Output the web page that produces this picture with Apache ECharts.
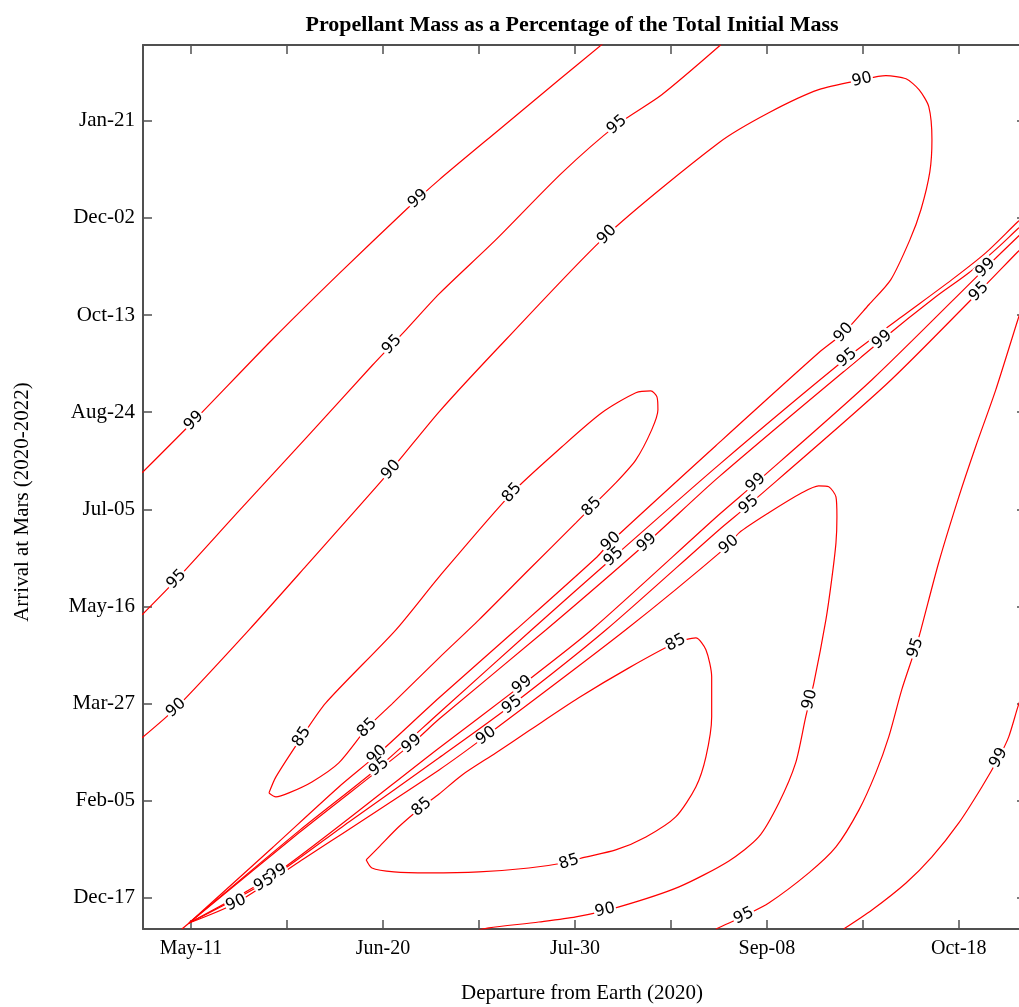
<!DOCTYPE html>
<html><head><meta charset="utf-8">
<script src="https://cdn.jsdelivr.net/npm/echarts@6/dist/echarts.min.js"></script>
<style>html,body{margin:0;padding:0;background:#fff}#c{width:1019px;height:1007px}</style>
</head><body><div id="c"></div>
<script>
// x = days after May 11, 2020 (departure); y = days after Dec 17, 2020 (arrival)
const titleText = 'Propellant Mass as a Percentage of the Total Initial Mass';
const xName = 'Departure from Earth (2020)';
const yName = 'Arrival at Mars (2020-2022)';
const xTickLabels = ['May-11','Jun-20','Jul-30','Sep-08','Oct-18'];
const xTickLabelValues = [0,40,80,120,160];
const xTickValues = [0,20,40,60,80,100,120,140,160];
const yTickLabels = ['Dec-17','Feb-05','Mar-27','May-16','Jul-05','Aug-24','Oct-13','Dec-02','Jan-21'];
const yTickValues = [0,50,100,150,200,250,300,350,400];

// contour lines, each as [departure day, arrival day]
const c99TopLeft = [[-10.2,218.8],[0.6,245.6],[16.9,287.3],[30.8,321.2],[44.8,354.2],[51.7,369.6],[64.2,395.4],[76.7,421.1],[85.8,439.6]];
const lab99TopLeft = [[0.6,245.6],[47.5,359.3]];

const c95TopLeft = [[-10.2,145.7],[-2.9,164.2],[10.0,199.2],[24.0,236.8],[37.7,273.9],[44.8,292.4],[51.7,310.9],[63.5,338.7],[77.3,373.2],[88.75,397.9],[98.1,413.4],[110.4,439.1]];
const lab95TopLeft = [[-2.9,163.7],[41.9,284.7],[88.75,397.9]];

const c90Upper = [[-10.2,82.4],[-3.1,97.8],[12.1,138.0],[24.0,170.9],[41.7,220.3],[51.7,250.2],[65.6,287.3],[86.7,341.3],[110.0,388.7],[120.4,404.1],[130.8,416.0],[139.8,421.1],[144.8,423.2],[149.0,421.6],[151.7,416.0],[153.75,407.2],[154.4,390.2],[153.96,373.7],[152.1,354.2],[149.8,338.7],[145.8,318.1],[141.25,305.3],[136.0,290.9],[130.8,280.6],[110.0,234.2],[87.5,183.3],[84.6,175.5],[67.7,138.0],[51.7,103.0],[38.75,73.6],[30.8,57.1],[16.9,25.7],[-0.4,-12.9],[-1.9,-16.0]];
const lab90Upper = [[-3.1,97.8],[41.7,220.3],[86.7,341.3],[139.8,421.1],[136.0,290.9],[87.5,183.3],[38.75,73.6]];

const c95Upper = [[-0.4,-12.9],[22.5,34.5],[39.2,67.4],[51.7,95.2],[71.0,138.0],[88.1,175.5],[110.0,222.9],[136.7,278.0],[148.1,299.1],[158.5,318.1],[165.6,332.0],[172.3,348.0],[174.0,351.6]];
const lab95Upper = [[39.2,67.4],[88.1,175.5],[136.7,278.0]];

const c99Upper = [[-0.4,-12.9],[22.5,33.5],[46.0,79.3],[51.7,92.1],[74.0,138.0],[95.0,182.8],[110.0,216.7],[144.0,287.3],[155.2,309.4],[162.1,321.75],[168.3,335.1],[172.3,344.4],[174.0,348.0]];
const lab99Upper = [[46.0,79.3],[95.0,182.8],[144.0,287.3]];

const c99Lower = [[-0.4,-12.9],[17.9,12.9],[51.7,77.2],[69.0,109.65],[83.5,138.0],[110.0,197.2],[117.7,213.6],[141.9,266.7],[165.6,324.3],[172.3,340.3],[174.0,344.4]];
const lab99Lower = [[17.9,12.9],[69.0,109.65],[117.7,213.6],[165.6,324.3]];

const c95Lower = [[-0.4,-12.9],[15.2,7.7],[32.9,39.1],[51.7,72.1],[66.9,99.4],[86.5,138.0],[110.0,189.4],[116.25,202.3],[144.8,264.1],[164.2,312.0],[172.3,332.6],[174.0,336.7]];
const lab95Lower = [[15.2,7.7],[66.9,99.4],[116.25,202.3],[164.2,312.0]];

const c90Lower = [[-0.4,-12.9],[9.4,-2.6],[22.5,18.5],[51.7,65.9],[61.5,83.4],[90.6,138.0],[112.1,181.7],[114.2,187.9],[120.4,198.2],[127.3,208.5],[130.8,212.1],[132.9,211.6],[134.4,206.4],[134.6,196.1],[134.4,182.75],[133.5,163.7],[132.3,143.1],[129.8,110.7],[128.1,93.2],[126.0,69.5],[122.5,48.9],[118.3,31.4],[112.1,19.05],[101.7,5.7],[89.2,-4.6],[80.2,-9.8],[72.5,-12.4],[62.1,-15.4],[60.0,-16.5]];
const lab90Lower = [[9.4,-2.6],[61.5,83.4],[112.1,181.7],[129.4,101.9],[86.5,-8.75]];

const c85Upper = [[16.25,54.05],[17.7,62.3],[23.1,82.9],[28.1,100.4],[42.7,138.0],[51.7,165.25],[66.9,208.5],[77.3,232.2],[85.6,249.7],[92.7,260.0],[95.8,261.0],[97.1,257.9],[97.3,251.2],[96.0,240.9],[92.7,225.5],[88.5,213.6],[83.5,201.3],[80.2,193.05],[70.4,168.9],[60.0,143.1],[51.7,123.55],[41.9,99.9],[36.7,87.5],[30.8,69.5],[25.2,59.7],[20.4,54.05],[17.7,52.0],[16.25,54.05]];
const lab85Upper = [[23.1,82.9],[66.9,208.5],[83.5,201.3],[36.7,87.5]];

const c85Lower = [[36.5,19.6],[39.2,26.3],[43.3,36.6],[48.1,46.8],[51.7,53.5],[56.5,63.3],[63.5,74.6],[70.4,86.0],[80.8,103.0],[91.25,118.4],[101.0,131.3],[105.2,133.8],[107.3,127.7],[108.5,113.8],[108.5,93.2],[107.3,72.6],[105.2,57.1],[101.0,41.7],[94.8,31.4],[88.5,24.7],[81.5,20.6],[78.75,18.5],[70.4,15.4],[60.0,13.4],[49.6,12.9],[42.3,13.4],[37.7,15.4],[36.5,19.6]];
const lab85Lower = [[48.1,46.8],[101.0,131.3],[78.75,18.5]];

const c95Right = [[109.4,-16.0],[115.2,-9.3],[120.4,-2.6],[128.75,12.9],[134.4,26.25],[139.2,45.3],[142.7,64.35],[145.4,82.9],[148.1,107.1],[151.0,128.7],[152.1,138.0],[155.8,172.5],[160.0,206.4],[163.5,232.2],[167.7,261.5],[172.3,297.6],[174.0,310.4]];
const lab95Right = [[115.2,-9.3],[151.0,128.7]];

const c99Right = [[136.0,-16.0],[141.9,-6.2],[149.0,7.7],[154.4,21.1],[160.0,38.6],[164.8,57.1],[168.3,72.1],[170.4,82.9],[172.3,98.3],[174.0,110.7]];
const lab99Right = [[168.3,72.1]];

const contours = [
  {level:99, points:c99TopLeft, labels:lab99TopLeft},
  {level:95, points:c95TopLeft, labels:lab95TopLeft},
  {level:90, points:c90Upper, labels:lab90Upper},
  {level:95, points:c95Upper, labels:lab95Upper},
  {level:99, points:c99Upper, labels:lab99Upper},
  {level:99, points:c99Lower, labels:lab99Lower},
  {level:95, points:c95Lower, labels:lab95Lower},
  {level:90, points:c90Lower, labels:lab90Lower},
  {level:85, points:c85Upper, labels:lab85Upper},
  {level:85, points:c85Lower, labels:lab85Lower},
  {level:95, points:c95Right, labels:lab95Right},
  {level:99, points:c99Right, labels:lab99Right}
];

const axisColor = '#505050';
const serif = '"Liberation Serif", "Times New Roman", serif';
const sans = '"DejaVu Sans", Arial, sans-serif';
const chart = echarts.init(document.getElementById('c'), null, {renderer:'canvas'});

function xAxisDef(pos, showLabel){
  return {
    type:'value', position:pos, min:-10, max:174,
    axisLine:{show:true, onZero:false, lineStyle:{color:axisColor, width:2}},
    axisTick:{show:true, inside:true, length:9, customValues:xTickValues, lineStyle:{color:axisColor, width:1.5}},
    axisLabel:{show:showLabel, customValues:xTickLabelValues, margin:10,
      formatter:v => xTickLabels[xTickLabelValues.indexOf(v)],
      fontFamily:serif, fontSize:20, color:'#000'},
    splitLine:{show:false}
  };
}
function yAxisDef(pos, showLabel){
  return {
    type:'value', position:pos, min:-16, max:439,
    axisLine:{show:true, onZero:false, lineStyle:{color:axisColor, width:2}},
    axisTick:{show:true, inside:true, length:9, customValues:yTickValues, lineStyle:{color:axisColor, width:1.5}},
    axisLabel:{show:showLabel, customValues:yTickValues, margin:8,
      formatter:v => yTickLabels[yTickValues.indexOf(v)],
      fontFamily:serif, fontSize:21, color:'#000'},
    splitLine:{show:false}
  };
}

const labelStyle = {show:true, position:'inside', fontFamily:sans, fontSize:16, fontWeight:'normal',
  color:'#000', opacity:1, textBorderWidth:0, backgroundColor:'#fff', padding:[0,1]};

const series = contours.map((c,i) => ({
  type:'line', name:'c'+i, data:c.points, xAxisIndex:0, yAxisIndex:0,
  showSymbol:false, symbol:'none', smooth:0.25, silent:true, z:2,
  lineStyle:{color:'#ff0000', width:1.2}
}));
series.push({
  id:'labels', type:'scatter', xAxisIndex:0, yAxisIndex:0, symbolSize:0, silent:true, z:5,
  itemStyle:{opacity:1},
  data:[],
  label:Object.assign({formatter:p => String(p.value[2])}, labelStyle)
});

chart.setOption({
  animation:false,
  backgroundColor:'#fff',
  grid:{left:143, top:45, right:-7, bottom:78, containLabel:false, outerBoundsMode:'none'},
  xAxis:[xAxisDef('bottom', true), xAxisDef('top', false)],
  yAxis:[yAxisDef('left', true), yAxisDef('right', false)],
  graphic:[
    {type:'text', x:572, y:25, style:{text:titleText, font:'bold 22px ' + serif, fill:'#000',
      align:'center', verticalAlign:'middle', textAlign:'center', textVerticalAlign:'middle'}},
    {type:'text', x:582, y:993, style:{text:xName, font:'21px ' + serif, fill:'#000',
      align:'center', verticalAlign:'middle', textAlign:'center', textVerticalAlign:'middle'}},
    {type:'text', x:22, y:502, rotation:Math.PI/2, style:{text:yName, font:'21px ' + serif, fill:'#000',
      align:'center', verticalAlign:'middle', textAlign:'center', textVerticalAlign:'middle'}}
  ],
  series:series
});

// place contour labels on their lines, rotated along the local direction
const items = [];
contours.forEach(c => {
  const px = c.points.map(p => chart.convertToPixel({gridIndex:0}, p));
  c.labels.forEach(l => {
    const q = chart.convertToPixel({gridIndex:0}, l);
    let best = null, bd = Infinity;
    for (let i = 0; i < px.length - 1; i++) {
      const a = px[i], b = px[i+1];
      const dx = b[0]-a[0], dy = b[1]-a[1];
      const len2 = dx*dx + dy*dy || 1;
      let t = ((q[0]-a[0])*dx + (q[1]-a[1])*dy) / len2;
      t = Math.max(0, Math.min(1, t));
      const p = [a[0]+t*dx, a[1]+t*dy];
      const d = (p[0]-q[0])**2 + (p[1]-q[1])**2;
      if (d < bd) { bd = d; best = {p, dx, dy}; }
    }
    let ang = Math.atan2(-best.dy, best.dx) * 180 / Math.PI;
    if (ang > 90) ang -= 180;
    if (ang < -90) ang += 180;
    const v = chart.convertFromPixel({gridIndex:0}, best.p);
    items.push({value:[v[0], v[1], c.level], label:Object.assign({rotate:ang}, labelStyle)});
  });
});
chart.setOption({series:[{id:'labels', data:items}]});
</script>
</body></html>
